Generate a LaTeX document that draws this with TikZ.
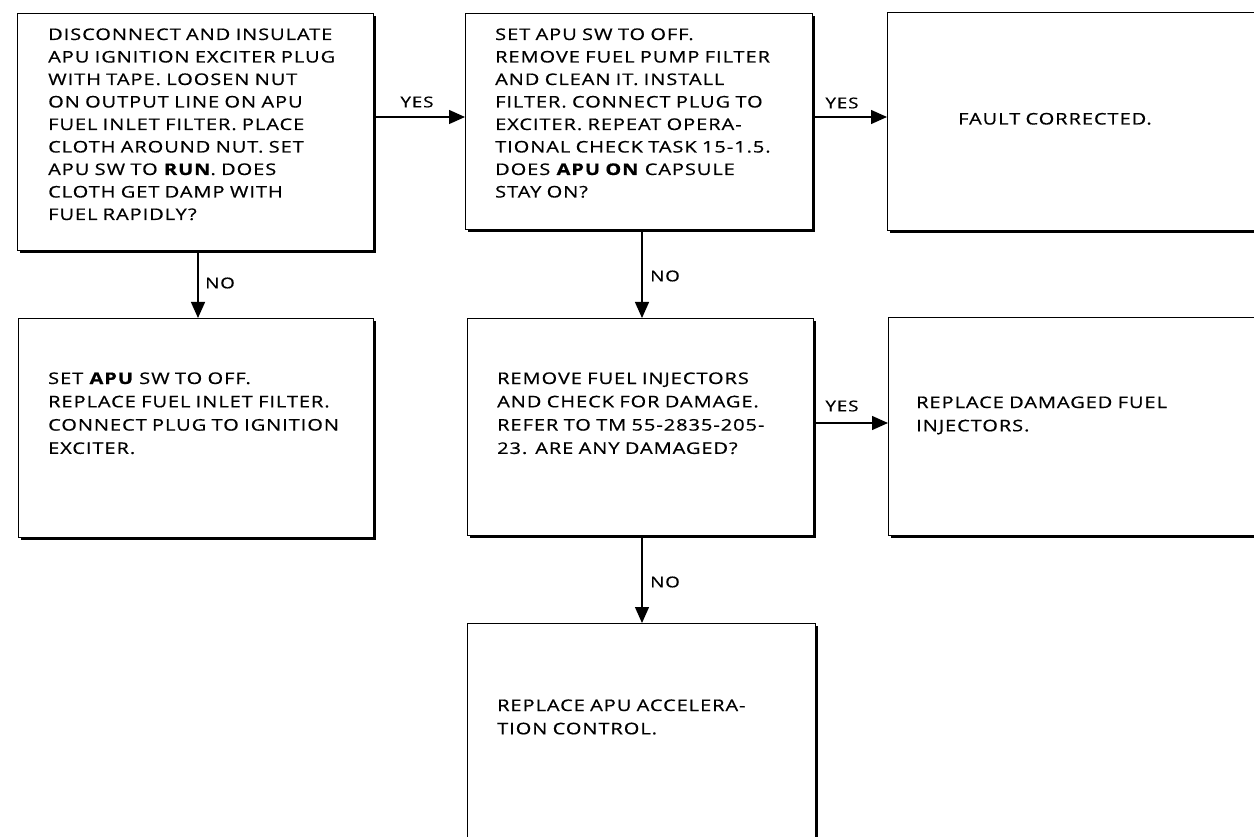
\documentclass[tikz,border=0pt]{standalone}
\usepackage{fontspec}
\setmainfont{Open Sans}[LetterSpace=6,FakeBold=0.6,FakeStretch=1.25]
\usetikzlibrary{arrows.meta,shadows}
\begin{document}
\begin{tikzpicture}[x=1pt,y=-1pt,
  box/.style={draw, line width=1.4pt, fill=white, inner sep=0pt, anchor=north west,
    drop shadow={shadow xshift=2.4pt, shadow yshift=-2.4pt, opacity=1, fill=black}},
  txt/.style={anchor=base west, inner sep=0pt, text width=360pt, align=left,
    font=\fontsize{16}{22.5}\selectfont},
  txtb/.style={txt, font=\fontsize{16}{23.3}\selectfont},
  lbl/.style={inner sep=0pt, font=\fontsize{15}{18}\selectfont},
  arr/.style={line width=1.3pt, -{Triangle[length=16pt,width=14pt]}}]
\useasboundingbox (0,0) rectangle (1254,837);
\clip (0,0) rectangle (1254,837);
% boxes
\node[box, minimum width=356pt, minimum height=237pt] (A) at (17,13) {};
\node[box, minimum width=347pt, minimum height=216pt] (B) at (465,13) {};
\node[box, minimum width=380pt, minimum height=218pt] (C) at (887,12) {};
\node[box, minimum width=355pt, minimum height=219pt] (D) at (18,318) {};
\node[box, minimum width=346pt, minimum height=217pt] (E) at (467,318) {};
\node[box, minimum width=380pt, minimum height=218pt] (F) at (888,317) {};
\node[box, minimum width=348pt, minimum height=240pt] (G) at (467,623) {};
% texts
\node[txt] (tA) at (48,40) {DISCONNECT AND INSULATE\\ APU IGNITION EXCITER PLUG\\ WITH TAPE. LOOSEN NUT\\ ON OUTPUT LINE ON APU\\ FUEL INLET FILTER. PLACE\\ CLOTH AROUND NUT. SET\\ APU SW TO \textbf{RUN}. DOES\\ CLOTH GET DAMP WITH\\ FUEL RAPIDLY?};
\node[txt] (tB) at (495,40) {SET APU SW TO OFF.\\ REMOVE FUEL PUMP FILTER\\ AND CLEAN IT. INSTALL\\ FILTER. CONNECT PLUG TO\\ EXCITER. REPEAT OPERA-\\ TIONAL CHECK TASK 15-1.5.\\ DOES \textbf{APU ON} CAPSULE\\ STAY ON?};
\node[txt, text width=200pt] (tC) at (958,124.5) {FAULT CORRECTED.};
\node[txtb] (tD) at (48,384) {SET \textbf{APU} SW TO OFF.\\ REPLACE FUEL INLET FILTER.\\ CONNECT PLUG TO IGNITION\\ EXCITER.};
\node[txtb] (tE) at (497,384) {REMOVE FUEL INJECTORS\\ AND CHECK FOR DAMAGE.\\ REFER TO TM 55-2835-205-\\ 23. ARE ANY DAMAGED?};
\node[txtb] (tF) at (916,408) {REPLACE DAMAGED FUEL\\ INJECTORS.};
\node[txtb] (tG) at (497,711) {REPLACE APU ACCELERA-\\ TION CONTROL.};
% connectors
\draw[arr] (A.east |- 0,117) -- (B.west |- 0,117);
\draw[arr] (B.east |- 0,117) -- (C.west |- 0,117);
\draw[arr] (E.east |- 0,423) -- (F.west |- 0,423);
\draw[arr] (A.south -| 198,0) -- (D.north -| 198,0);
\draw[arr] (B.south -| 642,0) -- (E.north -| 642,0);
\draw[arr] (E.south -| 642,0) -- (G.north -| 642,0);
% labels
\node[lbl] (yes1) at (417,102) {YES};
\node[lbl] (yes2) at (842,103) {YES};
\node[lbl] (yes3) at (842,406) {YES};
\node[lbl, anchor=west] (no1) at (205,283) {NO};
\node[lbl, anchor=west] (no2) at (650,276) {NO};
\node[lbl, anchor=west] (no3) at (650,582) {NO};
\end{tikzpicture}
\end{document}
